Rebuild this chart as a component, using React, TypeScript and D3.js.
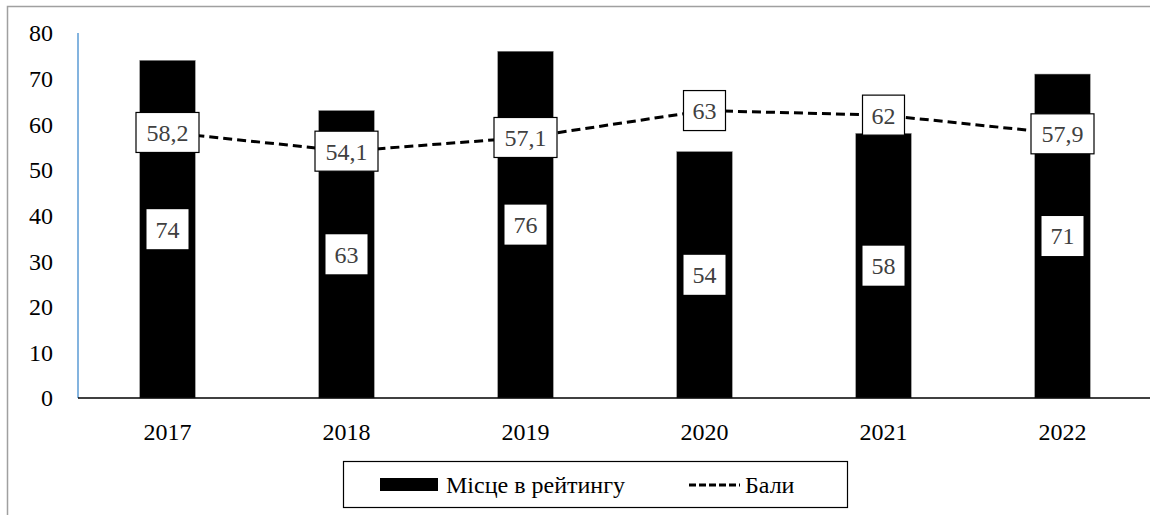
import React, { useEffect, useRef } from 'react';
import * as d3 from 'd3';

const years = ['2017', '2018', '2019', '2020', '2021', '2022'];
const rankValues = [74, 63, 76, 54, 58, 71];
const scoreValues = [58.2, 54.1, 57.1, 63, 62, 57.9];
const yTicks = [0, 10, 20, 30, 40, 50, 60, 70, 80];
const legendLabels = ['Місце в рейтингу', 'Бали'];

const W = 1150;
const H = 515;
const FONT = "'Liberation Serif', 'DejaVu Serif'";

const App = () => {
  const svgRef = useRef<SVGSVGElement>(null);

  useEffect(() => {
    document.body.style.margin = '0';
    const svg = d3.select(svgRef.current);
    svg.selectAll('*').remove();

    const left = 78;
    const right = 1152;
    const top = 33;
    const bottom = 398;

    const x = d3.scaleBand<string>().domain(years).range([left, right]).paddingInner(0.69).paddingOuter(0.345);
    const y = d3.scaleLinear().domain([0, 80]).range([bottom, top]);
    const cx = (d: string) => (x(d) as number) + x.bandwidth() / 2;

    svg.append('rect').attr('width', W).attr('height', H).attr('fill', '#fff');

    // рамка
    svg.append('path')
      .attr('d', `M7.5,${H} V6.5 H${W}`)
      .attr('fill', 'none')
      .attr('stroke', '#a0a0a0')
      .attr('stroke-width', 1.5);

    // вісь Y
    svg.append('line')
      .attr('x1', left).attr('x2', left)
      .attr('y1', top).attr('y2', bottom)
      .attr('stroke', '#5b9bd5').attr('stroke-width', 1.5);

    svg.append('g')
      .selectAll('text')
      .data(yTicks)
      .enter()
      .append('text')
      .attr('x', 53)
      .attr('y', d => y(d))
      .attr('dy', '0.35em')
      .attr('text-anchor', 'end')
      .attr('font-family', FONT)
      .attr('font-size', 24)
      .attr('fill', '#000')
      .text(d => d);

    // стовпчики
    svg.append('g')
      .selectAll('rect')
      .data(rankValues)
      .enter()
      .append('rect')
      .attr('x', (d, i) => x(years[i]) as number)
      .attr('y', d => y(d))
      .attr('width', x.bandwidth())
      .attr('height', d => bottom - y(d))
      .attr('fill', '#000')
      .attr('stroke', '#888')
      .attr('stroke-width', 0.5);

    // базова лінія
    svg.append('line')
      .attr('x1', left).attr('x2', right)
      .attr('y1', bottom).attr('y2', bottom)
      .attr('stroke', '#000').attr('stroke-width', 1.5);

    svg.append('g')
      .selectAll('text')
      .data(years)
      .enter()
      .append('text')
      .attr('x', d => cx(d))
      .attr('y', 432)
      .attr('dy', '0.35em')
      .attr('text-anchor', 'middle')
      .attr('font-family', FONT)
      .attr('font-size', 24)
      .text(d => d);

    // підписи стовпчиків
    const barLabels = svg.append('g');
    rankValues.forEach((v, i) => {
      const px = cx(years[i]);
      const py = (y(v) + bottom) / 2;
      barLabels.append('rect')
        .attr('x', px - 21).attr('y', py - 20)
        .attr('width', 42).attr('height', 40)
        .attr('fill', '#fff');
      barLabels.append('text')
        .attr('x', px).attr('y', py)
        .attr('dy', '0.35em')
        .attr('text-anchor', 'middle')
        .attr('font-family', FONT)
        .attr('font-size', 24)
        .attr('fill', '#404040')
        .text(v);
    });

    // лінія балів
    const line = d3.line<number>()
      .x((d, i) => cx(years[i]))
      .y(d => y(d));

    svg.append('path')
      .datum(scoreValues)
      .attr('d', line)
      .attr('fill', 'none')
      .attr('stroke', '#000')
      .attr('stroke-width', 3)
      .attr('stroke-dasharray', '9,5');

    const fmt = (v: number) => String(v).replace('.', ',');
    const lineLabels = svg.append('g');
    scoreValues.forEach((v, i) => {
      const px = cx(years[i]);
      const py = y(v);
      const w = Number.isInteger(v) ? 42 : 63;
      lineLabels.append('rect')
        .attr('x', px - w / 2).attr('y', py - 20)
        .attr('width', w).attr('height', 40)
        .attr('fill', '#fff')
        .attr('stroke', '#000')
        .attr('stroke-width', 1.2);
      lineLabels.append('text')
        .attr('x', px).attr('y', py)
        .attr('dy', '0.35em')
        .attr('text-anchor', 'middle')
        .attr('font-family', FONT)
        .attr('font-size', 24)
        .attr('fill', '#404040')
        .text(fmt(v));
    });

    // легенда
    const legend = svg.append('g');
    legend.append('rect')
      .attr('x', 343.5).attr('y', 461.5)
      .attr('width', 504).attr('height', 46)
      .attr('fill', '#fff')
      .attr('stroke', '#000')
      .attr('stroke-width', 1.2);
    legend.append('rect')
      .attr('x', 380).attr('y', 478)
      .attr('width', 58).attr('height', 13)
      .attr('fill', '#000');
    legend.append('text')
      .attr('x', 446).attr('y', 485)
      .attr('dy', '0.35em')
      .attr('font-family', FONT)
      .attr('font-size', 24)
      .text(legendLabels[0]);
    legend.append('line')
      .attr('x1', 689).attr('x2', 740)
      .attr('y1', 485).attr('y2', 485)
      .attr('stroke', '#000')
      .attr('stroke-width', 3)
      .attr('stroke-dasharray', '7,3');
    legend.append('text')
      .attr('x', 745).attr('y', 485)
      .attr('dy', '0.35em')
      .attr('font-family', FONT)
      .attr('font-size', 24)
      .text(legendLabels[1]);
  }, []);

  return (
    <svg ref={svgRef} width={W} height={H} style={{ display: 'block' }} />
  );
};

export default App;
